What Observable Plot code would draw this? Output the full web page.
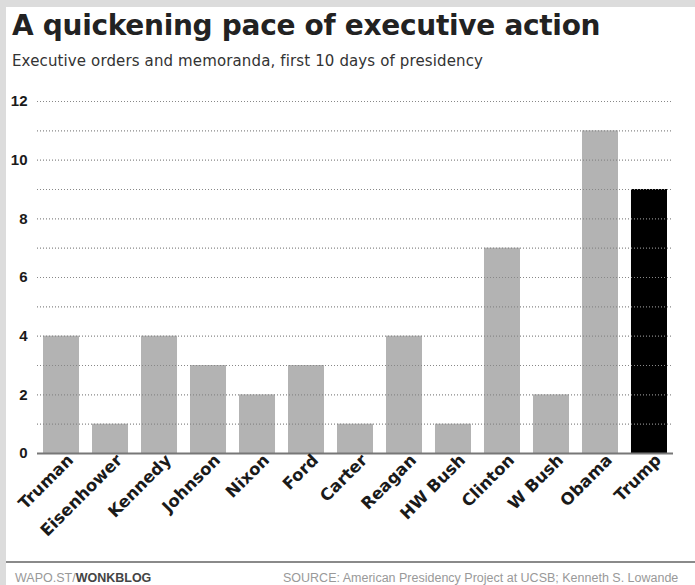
<!DOCTYPE html>
<html><head><meta charset="utf-8">
<script src="https://cdn.jsdelivr.net/npm/d3@7"></script>
<script src="https://cdn.jsdelivr.net/npm/@observablehq/plot@0.6"></script>
<style>
html,body{margin:0;padding:0;}
body{width:695px;height:585px;background:#dcdcdc;position:relative;overflow:hidden;font-family:"DejaVu Sans",sans-serif;}
#panel{position:absolute;left:6px;top:7px;width:689px;height:578px;background:#fff;}
#title{position:absolute;left:12px;top:12px;font:bold 28px/28px "DejaVu Sans",sans-serif;color:#222;white-space:nowrap;letter-spacing:-0.3px;}
#subtitle{position:absolute;left:12px;top:54px;font:15px/15px "DejaVu Sans",sans-serif;color:#333;white-space:nowrap;letter-spacing:0.13px;}
#chart{position:absolute;left:0;top:80px;}
#rule{position:absolute;left:6px;top:561px;width:689px;height:2px;background:#8a8a8a;}
.foot{position:absolute;top:572px;font:12.5px/13px "Liberation Sans",sans-serif;color:#999;white-space:nowrap;}
.foot b{color:#444;}
</style></head>
<body>
<div id="panel"></div>
<div id="title">A quickening pace of executive action</div>
<div id="subtitle">Executive orders and memoranda, first 10 days of presidency</div>
<div id="chart"></div>
<div id="rule"></div>
<div class="foot" style="left:15px">WAPO.ST/<b>WONKBLOG</b></div>
<div class="foot" style="left:283px">SOURCE: American Presidency Project at UCSB; Kenneth S. Lowande</div>
<script>
const presidents = ["Truman","Eisenhower","Kennedy","Johnson","Nixon","Ford","Carter","Reagan","HW Bush","Clinton","W Bush","Obama","Trump"];
const counts = [4,1,4,3,2,3,1,4,1,7,2,11,9];
const highlight = "Trump";
const yTickValues = [0,2,4,6,8,10,12];
const gridValues = [1,2,3,4,5,6,7,8,9,10,11,12];

const data = presidents.map((p,i)=>({president:p, count:counts[i]}));

const chart = Plot.plot({
  width: 695, height: 470,
  marginTop: 21, marginBottom: 97, marginLeft: 37, marginRight: 22,
  style: {background: "transparent", fontFamily: "DejaVu Sans"},
  x: {domain: presidents, paddingInner: 0.265, paddingOuter: 0.1225, round: false, label: null},
  y: {domain: [0,12], label: null},
  marks: [
    Plot.barY(data, {x: "president", y: "count", fill: d => d.president === highlight ? "#000" : "#b3b3b3"}),
    Plot.ruleY(gridValues, {stroke: "#888", strokeDasharray: "1 2", strokeWidth: 1.2}),
    Plot.ruleY([0], {stroke: "#777", strokeWidth: 2}),
    Plot.axisY(yTickValues, {tickSize: 0, tickPadding: 10, fontSize: 15, fontWeight: "bold", fontFamily: "Liberation Sans", fill: "#1a1a1a"}),
    Plot.axisX({tickRotate: -45, tickSize: 0, tickPadding: 4, dx: 9, fontSize: 16.5, fontWeight: "bold", fontFamily: "DejaVu Sans", fill: "#1a1a1a"})
  ]
});
document.getElementById("chart").appendChild(chart);
</script>
</body></html>
